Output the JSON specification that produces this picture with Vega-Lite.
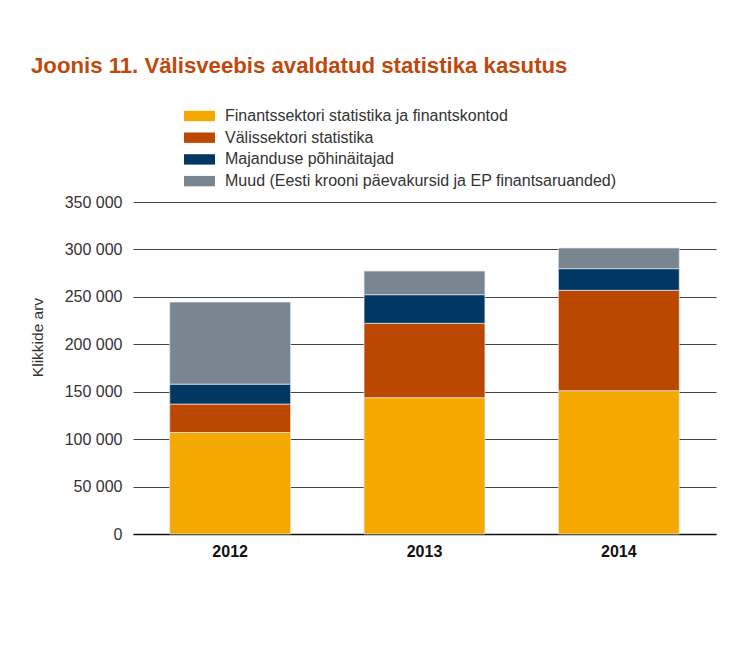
{
  "$schema": "https://vega.github.io/schema/vega-lite/v6.json",
  "autosize": "none",
  "width": 583,
  "height": 332,
  "padding": {"left": 133, "top": 202, "right": 39, "bottom": 111},
  "background": "white",
  "title": {
    "text": "Joonis 11. Välisveebis avaldatud statistika kasutus",
    "anchor": "start",
    "frame": "group",
    "orient": "top",
    "fontSize": 22.2,
    "fontWeight": "bold",
    "font": "Liberation Sans",
    "color": "#BF480C",
    "baseline": "alphabetic",
    "offset": 11,
    "dx": -102
  },
  "data": {
    "values": [
      {"aasta": "2012", "kategooria": "Finantssektori statistika ja finantskontod", "jrk": 1, "klikid": 107000},
      {"aasta": "2012", "kategooria": "Välissektori statistika", "jrk": 2, "klikid": 30000},
      {"aasta": "2012", "kategooria": "Majanduse põhinäitajad", "jrk": 3, "klikid": 21000},
      {"aasta": "2012", "kategooria": "Muud (Eesti krooni päevakursid ja EP finantsaruanded)", "jrk": 4, "klikid": 86500},
      {"aasta": "2013", "kategooria": "Finantssektori statistika ja finantskontod", "jrk": 1, "klikid": 143700},
      {"aasta": "2013", "kategooria": "Välissektori statistika", "jrk": 2, "klikid": 78400},
      {"aasta": "2013", "kategooria": "Majanduse põhinäitajad", "jrk": 3, "klikid": 30200},
      {"aasta": "2013", "kategooria": "Muud (Eesti krooni päevakursid ja EP finantsaruanded)", "jrk": 4, "klikid": 24900},
      {"aasta": "2014", "kategooria": "Finantssektori statistika ja finantskontod", "jrk": 1, "klikid": 151100},
      {"aasta": "2014", "kategooria": "Välissektori statistika", "jrk": 2, "klikid": 105800},
      {"aasta": "2014", "kategooria": "Majanduse põhinäitajad", "jrk": 3, "klikid": 22800},
      {"aasta": "2014", "kategooria": "Muud (Eesti krooni päevakursid ja EP finantsaruanded)", "jrk": 4, "klikid": 21800}
    ]
  },
  "mark": {"type": "bar", "stroke": "#e6eaee", "strokeWidth": 0.7},
  "encoding": {
    "x": {
      "field": "aasta",
      "type": "nominal",
      "scale": {"paddingInner": 0.378, "paddingOuter": 0.189},
      "axis": {
        "title": null,
        "labelAngle": 0,
        "labelFontSize": 16,
        "labelFontWeight": "bold",
        "labelColor": "#111111",
        "labelPadding": 9,
        "ticks": false,
        "domain": true,
        "domainColor": "#111111",
        "domainWidth": 1.5,
        "grid": false
      }
    },
    "y": {
      "field": "klikid",
      "type": "quantitative",
      "stack": "zero",
      "scale": {"domain": [0, 350000], "nice": false},
      "axis": {
        "values": [0, 50000, 100000, 150000, 200000, 250000, 300000, 350000],
        "labelExpr": "replace(format(datum.value, ','), ',', ' ')",
        "labelFontSize": 16,
        "labelColor": "#333333",
        "labelPadding": 11,
        "ticks": false,
        "domain": false,
        "grid": true,
        "gridColor": "#444444",
        "gridWidth": 1.2,
        "title": "Klikkide arv",
        "titleFontSize": 15.5,
        "titleFontWeight": "normal",
        "titleColor": "#333333",
        "titleX": -96,
        "titleY": 135,
        "titleAlign": "center",
        "titleBaseline": "middle",
        "titleAngle": -90
      }
    },
    "order": {"field": "jrk", "type": "quantitative", "sort": "ascending"},
    "color": {
      "field": "kategooria",
      "type": "nominal",
      "sort": [
        "Finantssektori statistika ja finantskontod",
        "Välissektori statistika",
        "Majanduse põhinäitajad",
        "Muud (Eesti krooni päevakursid ja EP finantsaruanded)"
      ],
      "scale": {
        "domain": [
          "Finantssektori statistika ja finantskontod",
          "Välissektori statistika",
          "Majanduse põhinäitajad",
          "Muud (Eesti krooni päevakursid ja EP finantsaruanded)"
        ],
        "range": ["#F5A800", "#BB4700", "#003763", "#798591"]
      },
      "legend": {
        "title": null,
        "orient": "none",
        "legendX": 56.5,
        "legendY": -96,
        "padding": 0,
        "symbolType": "M-1.55,-0.52H1.55V0.52H-1.55Z",
        "symbolSize": 400,
        "symbolStrokeWidth": 0,
        "symbolOpacity": 1,
        "labelOffset": 15.5,
        "labelFontSize": 16,
        "labelColor": "#333333",
        "labelLimit": 600,
        "rowPadding": 3.7
      }
    }
  },
  "config": {
    "view": {"stroke": null},
    "font": "Liberation Sans"
  }
}
